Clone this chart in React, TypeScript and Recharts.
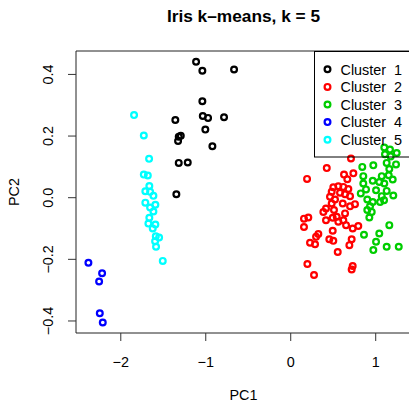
import React from 'react';
import { ScatterChart, Scatter, XAxis, YAxis, ReferenceArea, Legend, Label } from 'recharts';

// ---- data ----
const cluster1X = [-1.114, -1.04, -0.667, -1.04, -1.035, -0.973, -0.785, -1.358, -1.005, -1.294, -1.318, -1.326, -0.922, -1.318, -1.212, -1.346];
const cluster1Y = [0.441, 0.412, 0.416, 0.313, 0.265, 0.259, 0.261, 0.252, 0.221, 0.201, 0.198, 0.184, 0.167, 0.113, 0.114, 0.011];

const cluster2X = [0.709, 0.424, 0.192, 0.627, 0.737, 0.666, 0.501, 0.56, 0.619, 0.678, 0.482, 0.58, 0.639, 0.462, 0.698, 0.521, 0.612, 0.482, 0.756, 0.698, 0.415, 0.509, 0.384, 0.639, 0.541, 0.619, 0.494, 0.415, 0.156, 0.207, 0.156, 0.56, 0.651, 0.729, 0.795, 0.494, 0.325, 0.298, 0.227, 0.286, 0.454, 0.501, 0.717, 0.69, 0.553, 0.196, 0.274, 0.729, 0.717];
const cluster2Y = [0.127, 0.096, 0.061, 0.075, 0.079, 0.06, 0.034, 0.037, 0.035, 0.028, 0.019, 0.016, 0.011, 0.003, 0.005, -0.006, -0.019, -0.019, -0.021, -0.028, -0.035, -0.04, -0.046, -0.051, -0.062, -0.073, -0.065, -0.073, -0.068, -0.064, -0.095, -0.078, -0.089, -0.1, -0.092, -0.107, -0.118, -0.127, -0.146, -0.151, -0.135, -0.14, -0.135, -0.154, -0.176, -0.215, -0.251, -0.222, -0.233];

const cluster3X = [1.101, 1.168, 1.247, 1.109, 1.176, 1.129, 1.239, 1.16, 0.842, 0.972, 0.854, 0.965, 1.071, 1.153, 1.2, 1.042, 1.101, 0.854, 0.886, 1.004, 1.129, 0.824, 1.071, 1.207, 0.901, 0.965, 1.051, 1.098, 0.933, 0.901, 0.953, 0.925, 1.16, 1.042, 0.862, 1.004, 1.129, 1.271, 0.972];
const cluster3Y = [0.163, 0.156, 0.145, 0.141, 0.134, 0.113, 0.108, 0.093, 0.1, 0.105, 0.07, 0.055, 0.07, 0.073, 0.059, 0.051, 0.046, 0.046, 0.027, 0.024, 0.022, 0.014, 0.005, 0.007, -0.006, -0.014, -0.014, -0.008, -0.028, -0.04, -0.046, -0.064, -0.089, -0.116, -0.12, -0.143, -0.159, -0.159, -0.17];

const cluster4X = [-2.381, -2.22, -2.255, -2.247, -2.212];
const cluster4Y = [-0.211, -0.245, -0.272, -0.375, -0.405];

const cluster5X = [-1.844, -1.729, -1.667, -1.729, -1.682, -1.664, -1.711, -1.655, -1.616, -1.711, -1.593, -1.655, -1.616, -1.664, -1.675, -1.593, -1.624, -1.588, -1.549, -1.596, -1.585, -1.506];
const cluster5Y = [0.268, 0.202, 0.126, 0.075, 0.072, 0.038, 0.021, 0.019, 0.006, -0.016, -0.023, -0.032, -0.045, -0.065, -0.084, -0.087, -0.1, -0.125, -0.129, -0.141, -0.159, -0.205];

const clusterNames = ['Cluster 1', 'Cluster 2', 'Cluster 3', 'Cluster 4', 'Cluster 5'];
const clusterColors = ['#000000', '#FF0000', '#00CD00', '#0000FF', '#00FFFF'];
const xTicks = [-2, -1, 0, 1];
const yTicks = [-0.4, -0.2, 0, 0.2, 0.4];
const xDomain = [-2.527, 1.42];
const yDomain = [-0.439, 0.476];
const title = 'Iris k\u2013means, k = 5';

const toPts = (xs: number[], ys: number[]) => xs.map((x, i) => ({ x, y: ys[i] }));
const seriesData = [
  toPts(cluster1X, cluster1Y),
  toPts(cluster2X, cluster2Y),
  toPts(cluster3X, cluster3Y),
  toPts(cluster4X, cluster4Y),
  toPts(cluster5X, cluster5Y),
];

const FONT = '"Liberation Sans", Arial, Helvetica, sans-serif';
const fmt = (v: number, d: number) => (v < 0 ? '\u2212' + Math.abs(v).toFixed(d) : v.toFixed(d));

const XTick = (p: any) => (
  <text x={p.x} y={p.y + 23.5} textAnchor="middle" fontFamily={FONT} fontSize={14.4} fill="#000">
    {fmt(p.payload.value, 0)}
  </text>
);
const YTick = (p: any) => {
  const bx = p.x - 13;
  return (
    <text x={bx} y={p.y} transform={`rotate(-90 ${bx} ${p.y})`} textAnchor="middle" fontFamily={FONT} fontSize={14.4} fill="#000">
      {fmt(p.payload.value, 1)}
    </text>
  );
};

const ring = (color: string) => (p: any) => (
  <circle cx={p.cx} cy={p.cy} r={2.9} fill="none" stroke={color} strokeWidth={2.2} />
);

const LegendBox = () => (
  <svg width={110} height={108} style={{ display: 'block', overflow: 'visible' }}>
    <rect x={0.5} y={0.5} width={120} height={105.5} fill="none" stroke="#000" strokeWidth={1} />
    {clusterNames.map((n, i) => (
      <g key={n}>
        <circle cx={13.5} cy={18.3 + i * 17.6} r={2.9} fill="none" stroke={clusterColors[i]} strokeWidth={2.2} />
        <text x={26.5} y={18.3 + i * 17.6 + 5.2} fontFamily={FONT} fontSize={14.4} fill="#000" style={{ wordSpacing: '4px' }}>
          {n}
        </text>
      </g>
    ))}
  </svg>
);

export default function App() {
  return (
    <div style={{ position: 'absolute', left: 0, top: 0, width: 409, height: 402, overflow: 'hidden', background: '#fff' }}>
      <ScatterChart width={420} height={402} margin={{ top: 51, right: 8.6, bottom: 0, left: 0 }}>
        <XAxis
          type="number"
          dataKey="x"
          domain={xDomain}
          ticks={xTicks}
          interval={0}
          allowDataOverflow
          height={69}
          axisLine={false}
          tickSize={8}
          tickLine={{ stroke: '#333' }}
          tick={XTick}
        >
          <Label content={() => (
            <text x={243.5} y={400} textAnchor="middle" fontFamily={FONT} fontSize={14.4} fill="#000">PC1</text>
          )} />
        </XAxis>
        <YAxis
          type="number"
          dataKey="y"
          domain={yDomain}
          ticks={yTicks}
          interval={0}
          allowDataOverflow
          width={76}
          axisLine={false}
          tickSize={8}
          tickLine={{ stroke: '#333' }}
          tick={YTick}
        >
          <Label content={() => (
            <text x={18.5} y={192} transform="rotate(-90 18.5 192)" textAnchor="middle" fontFamily={FONT} fontSize={14.4} fill="#000">PC2</text>
          )} />
        </YAxis>
        <ReferenceArea x1={xDomain[0]} x2={xDomain[1]} y1={yDomain[0]} y2={yDomain[1]} fill="none" stroke="#222" strokeWidth={1} ifOverflow="visible" />
        {seriesData.map((d, i) => (
          <Scatter key={clusterNames[i]} name={clusterNames[i]} data={d} isAnimationActive={false} shape={ring(clusterColors[i])} />
        ))}
        <Legend
          layout="vertical"
          align="center"
          verticalAlign="middle"
          content={() => <LegendBox />}
          wrapperStyle={{ position: 'absolute', left: 314, top: 51, width: 110, height: 108, pointerEvents: 'none' }}
        />
      </ScatterChart>
      <svg width={409} height={40} style={{ position: 'absolute', left: 0, top: 0, pointerEvents: 'none' }}>
        <text x={243.5} y={21.7} textAnchor="middle" fontFamily={FONT} fontSize={17.3} fontWeight="bold" fill="#000">
          {title}
        </text>
      </svg>
    </div>
  );
}
